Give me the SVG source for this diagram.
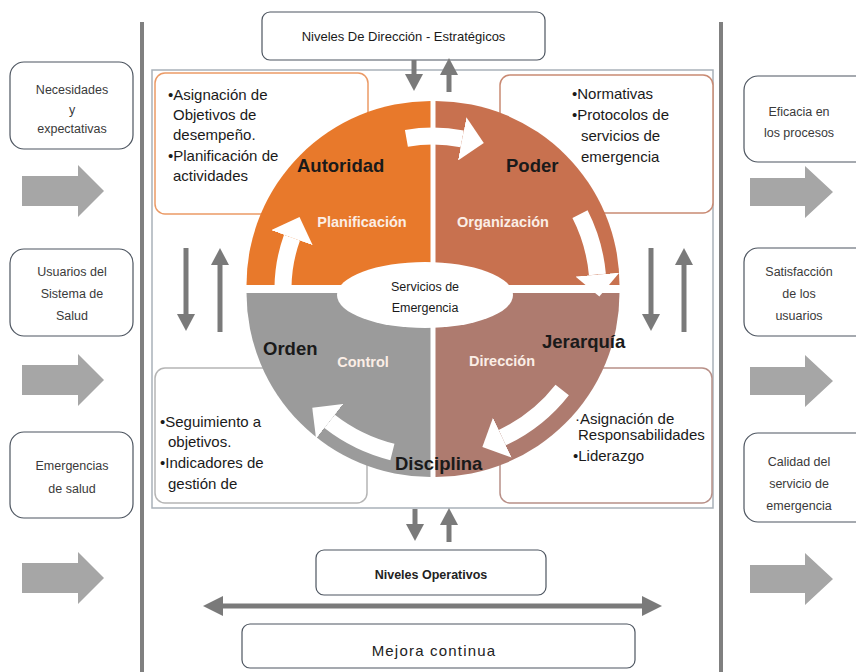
<svg xmlns="http://www.w3.org/2000/svg" width="856" height="672" viewBox="0 0 856 672">
<style>
.sbox{fill:#fff;stroke:#4d5560;stroke-width:1.2}
.stxt{font-family:"Liberation Sans",Arial,sans-serif;font-size:12.5px;fill:#3a3a3a;text-anchor:middle}
.blk{fill:#a6a6a6}
.body{font-family:"Liberation Sans",Arial,sans-serif;font-size:15px;fill:#1a1a1a}
.big{font-family:"Liberation Sans",Arial,sans-serif;font-size:18.5px;font-weight:bold;fill:#1a1a1a}
.wl{font-family:"Liberation Sans",Arial,sans-serif;font-size:14.5px;font-weight:bold;fill:#fbeee6;text-anchor:middle}
.warr{fill:none;stroke:#fff;stroke-width:17}
.garr{stroke:#7a7a7a;stroke-width:5;fill:none}
.vline{stroke:#808080;stroke-width:4}
</style>
<defs>
<marker id="wh" markerUnits="userSpaceOnUse" markerWidth="24" markerHeight="44" viewBox="0 0 24 44" refX="0" refY="22" orient="auto"><path d="M0,0 L22,22 L0,44 Z" fill="#fff"/></marker>
<marker id="gh" markerUnits="userSpaceOnUse" markerWidth="18" markerHeight="18" viewBox="0 0 18 18" refX="0" refY="9" orient="auto-start-reverse"><path d="M0,0 L17,9 L0,18 Z" fill="#7a7a7a"/></marker>
<marker id="gh2" markerUnits="userSpaceOnUse" markerWidth="22" markerHeight="20" viewBox="0 0 22 20" refX="0" refY="10" orient="auto-start-reverse"><path d="M0,0 L20,10 L0,20 Z" fill="#7a7a7a"/></marker>
</defs>
<rect width="856" height="672" fill="#fff"/>
<line class="vline" x1="142" y1="22" x2="142" y2="672"/>
<line class="vline" x1="721" y1="22" x2="721" y2="672"/>
<rect x="152" y="70" width="561" height="438" fill="none" stroke="#a9b1b9" stroke-width="1.5"/>

<g id="in-necesidades">
<rect class="sbox" x="10" y="62" width="123" height="87" rx="14"/>
<text class="stxt" x="72" y="94">Necesidades</text>
<text class="stxt" x="72" y="114">y</text>
<text class="stxt" x="72" y="133">expectativas</text>
<polygon class="blk" points="22,176 78,176 78,165 104,191 78,217 78,206 22,206"/>
</g>
<g id="in-usuarios">
<rect class="sbox" x="10" y="249" width="123" height="87" rx="14"/>
<text class="stxt" x="72" y="276">Usuarios del</text>
<text class="stxt" x="72" y="298">Sistema de</text>
<text class="stxt" x="72" y="320">Salud</text>
<polygon class="blk" points="22,365 78,365 78,354 104,380 78,406 78,395 22,395"/>
</g>
<g id="in-emergencias">
<rect class="sbox" x="10" y="432" width="123" height="86" rx="14"/>
<text class="stxt" x="72" y="470">Emergencias</text>
<text class="stxt" x="72" y="493">de salud</text>
<polygon class="blk" points="22,563 78,563 78,552 104,578 78,604 78,593 22,593"/>
</g>

<g id="out-eficacia">
<rect class="sbox" x="744" y="76" width="130" height="86" rx="14"/>
<text class="stxt" x="799" y="116">Eficacia en</text>
<text class="stxt" x="799" y="137">los procesos</text>
<polygon class="blk" points="750,178 805,178 805,166 833,192 805,218 805,206 750,206"/>
</g>
<g id="out-satisfaccion">
<rect class="sbox" x="744" y="248" width="130" height="88" rx="14"/>
<text class="stxt" x="799" y="276">Satisfacción</text>
<text class="stxt" x="799" y="298">de los</text>
<text class="stxt" x="799" y="320">usuarios</text>
<polygon class="blk" points="750,367 805,367 805,355 833,381 805,407 805,395 750,395"/>
</g>
<g id="out-calidad">
<rect class="sbox" x="744" y="433" width="130" height="89" rx="14"/>
<text class="stxt" x="799" y="466">Calidad del</text>
<text class="stxt" x="799" y="488">servicio de</text>
<text class="stxt" x="799" y="510">emergencia</text>
<polygon class="blk" points="750,565 805,565 805,553 833,579 805,605 805,593 750,593"/>
</g>

<g id="niveles-direccion">
<rect class="sbox" x="262" y="12" width="283" height="48" rx="8"/>
<text x="403.5" y="41" font-family="Liberation Sans, Arial, sans-serif" font-size="13" fill="#1a1a1a" text-anchor="middle">Niveles De Dirección - Estratégicos</text>
</g>

<g id="box-planificacion">
<rect x="155" y="73" width="213" height="141" rx="10" fill="#fff" stroke="#eb9a66" stroke-width="1.5"/>
<text class="body" x="168" y="100">•Asignación de</text>
<text class="body" x="173" y="120">Objetivos de</text>
<text class="body" x="173" y="140">desempeño.</text>
<text class="body" x="168" y="161">•Planificación de</text>
<text class="body" x="173" y="181">actividades</text>
</g>
<g id="box-organizacion">
<rect x="500" y="75" width="213" height="138" rx="10" fill="#fff" stroke="#c98a73" stroke-width="1.5"/>
<text class="body" x="572" y="99">•Normativas</text>
<text class="body" x="572" y="120">•Protocolos de</text>
<text class="body" x="581" y="141">servicios de</text>
<text class="body" x="581" y="162">emergencia</text>
</g>
<g id="box-control">
<rect x="155" y="368" width="212" height="135" rx="10" fill="#fff" stroke="#b5b5b5" stroke-width="1.5"/>
<text class="body" x="160" y="427">•Seguimiento a</text>
<text class="body" x="168" y="447">objetivos.</text>
<text class="body" x="160" y="468">•Indicadores de</text>
<text class="body" x="168" y="489">gestión de</text>
</g>
<g id="box-direccion">
<rect x="500" y="368" width="212" height="135" rx="10" fill="#fff" stroke="#b89088" stroke-width="1.5"/>
<text class="body" x="575" y="424" font-size="13.5">·Asignación de</text>
<text class="body" x="578" y="440" font-size="13.5">Responsabilidades</text>
<text class="body" x="573" y="461" font-size="13.5">•Liderazgo</text>
</g>

<g id="circle">
<path d="M430.5,285 H246.5 A184,184 0 0 1 430.5,101 Z" fill="#e8792b"/>
<path d="M435.5,285 V101 A184,184 0 0 1 619.5,285 Z" fill="#c8714f"/>
<path d="M435.5,293 H619.5 A184,184 0 0 1 435.5,477 Z" fill="#ae7b6f"/>
<path d="M430.5,293 V477 A184,184 0 0 1 246.5,293 Z" fill="#9b9b9b"/>
<path class="warr" d="M283,287 A150,150 0 0 1 292,237.7" marker-end="url(#wh)"/>
<path class="warr" d="M406.4,138.3 A153,153 0 0 1 462.2,138.8" marker-end="url(#wh)"/>
<path class="warr" d="M580,214.1 A165,165 0 0 1 597.4,274.6" marker-end="url(#wh)"/>
<path class="warr" d="M562.2,390 A164,164 0 0 1 502.3,437.6" marker-end="url(#wh)"/>
<path class="warr" d="M392.4,452 A168,168 0 0 1 329.6,421.4" marker-end="url(#wh)"/>
<ellipse cx="425" cy="295" rx="88" ry="33" fill="#fff"/>
<text x="425" y="291" font-family="Liberation Sans, Arial, sans-serif" font-size="12.5" fill="#1a1a1a" text-anchor="middle">Servicios de</text>
<text x="425" y="312" font-family="Liberation Sans, Arial, sans-serif" font-size="12.5" fill="#1a1a1a" text-anchor="middle">Emergencia</text>
<text class="big" x="297" y="172">Autoridad</text>
<text class="big" x="506" y="172">Poder</text>
<text class="big" x="542" y="348">Jerarquía</text>
<text class="big" x="263" y="355">Orden</text>
<text class="big" x="395" y="470">Disciplina</text>
<text class="wl" x="362" y="227">Planificación</text>
<text class="wl" x="503" y="227">Organización</text>
<text class="wl" x="502" y="366">Dirección</text>
<text class="wl" x="363" y="367">Control</text>
</g>

<g id="niveles-operativos">
<rect class="sbox" x="316" y="550" width="230" height="45" rx="8"/>
<text x="431" y="579" font-family="Liberation Sans, Arial, sans-serif" font-size="12.5" font-weight="bold" fill="#222" text-anchor="middle">Niveles Operativos</text>
</g>
<g id="mejora-continua">
<rect class="sbox" x="242" y="624" width="393" height="44" rx="8"/>
<text x="434" y="656" font-family="Liberation Sans, Arial, sans-serif" font-size="15" letter-spacing="1.2" fill="#222" text-anchor="middle">Mejora continua</text>
</g>

<g id="connectors">
<line class="garr" x1="414" y1="60" x2="414" y2="74" marker-end="url(#gh)"/>
<line class="garr" x1="449" y1="92" x2="449" y2="75" marker-end="url(#gh)"/>
<line class="garr" x1="186" y1="248" x2="186" y2="314" marker-end="url(#gh)"/>
<line class="garr" x1="220" y1="332" x2="220" y2="265" marker-end="url(#gh)"/>
<line class="garr" x1="651" y1="248" x2="651" y2="314" marker-end="url(#gh)"/>
<line class="garr" x1="684" y1="332" x2="684" y2="265" marker-end="url(#gh)"/>
<line class="garr" x1="415" y1="509" x2="415" y2="524" marker-end="url(#gh)"/>
<line class="garr" x1="449" y1="542" x2="449" y2="525" marker-end="url(#gh)"/>
<line class="garr" x1="223" y1="606" x2="642" y2="606" stroke-width="5" marker-start="url(#gh2)" marker-end="url(#gh2)"/>
</g>
</svg>
